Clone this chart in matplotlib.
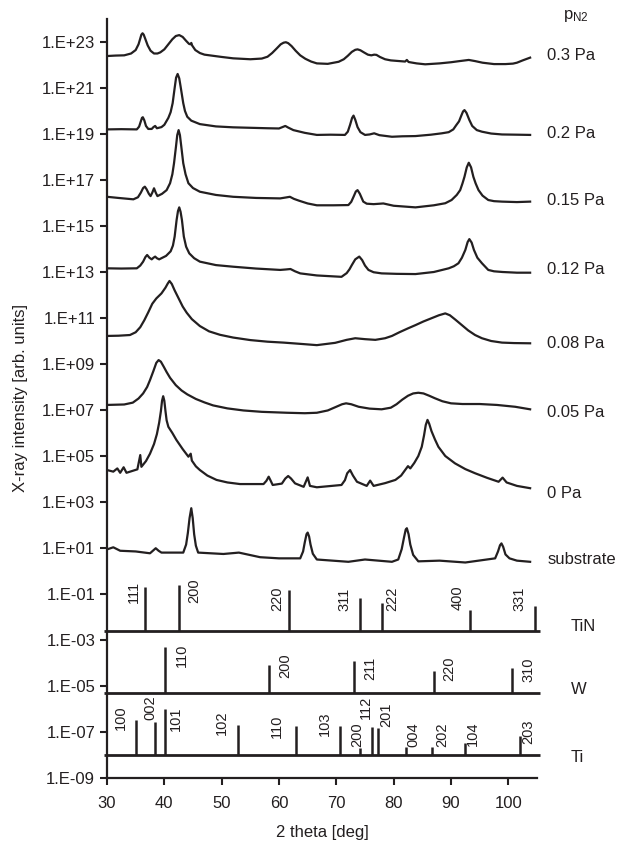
import numpy as np
import matplotlib
matplotlib.use("Agg")
import matplotlib.pyplot as plt
from matplotlib.ticker import FuncFormatter, NullLocator

c03 = [(30.0, 22.39), (31.5, 22.41), (33.0, 22.42), (34.2, 22.50), (35.0, 22.65), (35.5, 22.90),
       (35.8, 23.15), (36.0, 23.32), (36.2, 23.38), (36.4, 23.32), (36.7, 23.12), (37.1, 22.85),
       (37.6, 22.62), (38.2, 22.50), (38.8, 22.50), (39.3, 22.55), (40.0, 22.68), (40.7, 22.90),
       (41.4, 23.12), (42.0, 23.26), (42.6, 23.30), (43.2, 23.22), (43.8, 23.05), (44.3, 22.92),
       (44.55, 22.90), (44.7, 22.96), (44.85, 22.85), (45.4, 22.65), (46.2, 22.52), (47.0, 22.45),
       (48.5, 22.40), (50.0, 22.35), (52.0, 22.29), (53.5, 22.27), (55.0, 22.25), (57.0, 22.28),
       (58.0, 22.36), (58.8, 22.52), (59.6, 22.72), (60.3, 22.90), (60.8, 22.97), (61.2, 22.99),
       (61.6, 22.95), (62.2, 22.82), (62.9, 22.62), (63.7, 22.42), (64.6, 22.27), (65.6, 22.15),
       (66.6, 22.07), (68.5, 22.05), (70.4, 22.14), (71.3, 22.25), (72.0, 22.40), (72.7, 22.57),
       (73.3, 22.66), (73.7, 22.68), (74.2, 22.64), (74.8, 22.55), (75.5, 22.45), (76.1, 22.42),
       (76.6, 22.45), (77.0, 22.44), (77.6, 22.35), (78.5, 22.25), (79.5, 22.20), (81.0, 22.17),
       (82.0, 22.15), (82.3, 22.22), (82.6, 22.13), (84.0, 22.07), (85.5, 22.03), (88.0, 22.07),
       (90.0, 22.12), (91.5, 22.17), (93.1, 22.22), (94.2, 22.17), (95.5, 22.10), (97.5, 22.04),
       (99.5, 22.04), (100.8, 22.06), (101.5, 22.10), (102.5, 22.20), (103.8, 22.32)]
c02 = [(30.0, 19.20), (32.5, 19.21), (35.2, 19.20), (35.6, 19.32), (35.9, 19.55), (36.1, 19.70),
       (36.25, 19.73), (36.5, 19.60), (36.8, 19.35), (37.2, 19.22), (37.8, 19.22), (38.1, 19.30),
       (38.4, 19.35), (38.7, 19.25), (39.5, 19.30), (40.0, 19.40), (40.7, 19.70), (41.1, 19.95),
       (41.45, 20.34), (41.8, 21.00), (42.05, 21.45), (42.32, 21.61), (42.6, 21.42), (42.84, 21.06),
       (43.3, 20.34), (43.6, 20.00), (44.0, 19.75), (44.7, 19.58), (46.2, 19.43), (49.0, 19.33),
       (52.0, 19.29), (55.0, 19.27), (58.0, 19.25), (60.0, 19.24), (60.6, 19.30), (61.1, 19.35),
       (61.6, 19.28), (62.5, 19.17), (64.5, 19.05), (66.6, 18.96), (69.0, 18.97), (71.5, 18.96),
       (72.0, 19.10), (72.4, 19.40), (72.75, 19.70), (73.0, 19.80), (73.3, 19.62), (73.7, 19.30),
       (74.2, 19.08), (75.0, 18.96), (75.8, 18.98), (76.6, 19.03), (77.5, 18.95), (79.7, 18.88),
       (81.5, 18.90), (83.8, 18.91), (86.5, 18.97), (88.4, 19.03), (89.6, 19.08), (90.4, 19.20),
       (90.9, 19.38), (91.4, 19.55), (91.8, 19.80), (92.1, 19.98), (92.35, 20.04), (92.7, 19.92),
       (93.2, 19.61), (93.7, 19.35), (94.5, 19.17), (95.4, 19.10), (97.0, 19.02), (98.9, 18.98),
       (101.5, 18.97), (103.8, 18.96)]
c015 = [(30.0, 16.27), (32.0, 16.22), (34.6, 16.16), (35.4, 16.25), (35.9, 16.45), (36.3, 16.65),
        (36.6, 16.71), (36.9, 16.60), (37.3, 16.40), (37.6, 16.30), (37.9, 16.45), (38.2, 16.64),
        (38.5, 16.45), (38.8, 16.30), (39.6, 16.40), (40.4, 16.56), (41.0, 16.86), (41.4, 17.25),
        (41.69, 17.73), (42.03, 18.45), (42.25, 18.95), (42.49, 19.17), (42.72, 18.95), (42.96, 18.45),
        (43.3, 17.73), (43.7, 17.25), (44.2, 16.86), (45.0, 16.65), (46.2, 16.49), (49.0, 16.35),
        (52.0, 16.27), (56.0, 16.22), (60.2, 16.20), (61.2, 16.24), (61.9, 16.27), (62.6, 16.18),
        (63.5, 16.10), (65.0, 15.98), (66.6, 15.90), (69.5, 15.90), (72.1, 15.91), (72.6, 16.05),
        (73.0, 16.27), (73.4, 16.50), (73.7, 16.56), (74.1, 16.40), (74.7, 16.06), (75.3, 15.97),
        (76.5, 15.95), (78.2, 15.98), (80.0, 15.88), (83.8, 15.81), (87.0, 15.90), (89.0, 15.99),
        (90.1, 16.13), (91.0, 16.35), (91.6, 16.56), (92.0, 16.85), (92.35, 17.14), (92.75, 17.55),
        (93.1, 17.75), (93.5, 17.55), (93.9, 17.14), (94.3, 16.85), (94.8, 16.56), (95.5, 16.32),
        (96.5, 16.13), (97.5, 16.08), (98.9, 16.06), (101.5, 16.04), (103.8, 16.06)]
c012 = [(30.0, 13.16), (32.5, 13.15), (35.2, 13.16), (35.8, 13.28), (36.3, 13.45), (36.7, 13.65),
        (37.0, 13.74), (37.4, 13.62), (37.8, 13.55), (38.1, 13.62), (38.4, 13.67), (38.7, 13.60),
        (39.1, 13.55), (40.3, 13.70), (41.1, 13.90), (41.5, 14.15), (41.8, 14.54), (42.14, 15.26),
        (42.38, 15.65), (42.6, 15.81), (42.83, 15.62), (43.07, 15.26), (43.4, 14.54), (43.8, 14.10),
        (44.35, 13.81), (45.2, 13.60), (46.2, 13.45), (49.0, 13.30), (52.0, 13.23), (56.0, 13.15),
        (60.2, 13.09), (61.2, 13.11), (62.0, 13.13), (62.8, 13.03), (63.7, 12.94), (66.6, 12.85),
        (70.9, 12.79), (71.8, 12.95), (72.3, 13.12), (72.7, 13.30), (73.3, 13.55), (74.0, 13.67),
        (74.5, 13.52), (75.0, 13.28), (75.6, 13.09), (76.5, 12.99), (77.9, 12.94), (80.5, 12.92),
        (83.8, 12.91), (87.0, 13.00), (89.6, 13.16), (90.5, 13.25), (91.3, 13.38), (91.9, 13.62),
        (92.5, 13.96), (92.9, 14.30), (93.2, 14.43), (93.6, 14.28), (94.0, 13.96), (94.6, 13.62),
        (95.4, 13.38), (96.5, 13.09), (97.5, 13.03), (99.0, 13.00), (101.5, 12.97), (103.8, 12.97)]
c008 = [(30.0, 10.22), (32.0, 10.23), (34.0, 10.26), (35.0, 10.38), (35.8, 10.60), (36.5, 10.90),
        (37.2, 11.25), (37.9, 11.62), (38.6, 11.85), (39.5, 12.07), (40.2, 12.32), (40.6, 12.50),
        (40.9, 12.61), (41.3, 12.48), (41.8, 12.20), (42.5, 11.85), (43.2, 11.50), (43.9, 11.23),
        (44.8, 10.95), (46.2, 10.65), (47.8, 10.42), (49.7, 10.27), (52.0, 10.15), (55.0, 10.04),
        (58.0, 9.97), (60.8, 9.93), (63.5, 9.88), (66.6, 9.82), (69.8, 9.92), (71.8, 10.05),
        (73.3, 10.12), (75.0, 10.08), (76.8, 10.05), (78.5, 10.12), (79.7, 10.22), (81.0, 10.38),
        (82.5, 10.55), (83.8, 10.69), (85.2, 10.85), (86.6, 10.99), (87.9, 11.12), (89.0, 11.20),
        (89.8, 11.12), (90.8, 10.92), (91.9, 10.69), (93.0, 10.46), (94.2, 10.26), (95.4, 10.12),
        (97.0, 10.00), (98.9, 9.93), (101.0, 9.91), (103.8, 9.90)]
c005 = [(30.0, 7.22), (33.0, 7.24), (34.5, 7.32), (35.5, 7.50), (36.3, 7.72), (37.0, 8.00),
        (37.5, 8.30), (38.1, 8.70), (38.6, 9.05), (39.0, 9.17), (39.4, 9.10), (39.9, 8.88),
        (40.4, 8.65), (41.0, 8.40), (42.0, 8.08), (43.0, 7.85), (44.0, 7.68), (45.5, 7.48),
        (47.0, 7.33), (48.5, 7.20), (51.0, 7.07), (53.8, 6.98), (57.0, 6.92), (61.4, 6.88),
        (64.5, 6.86), (66.6, 6.88), (68.5, 6.98), (69.8, 7.12), (71.0, 7.25), (71.7, 7.29),
        (72.6, 7.25), (73.9, 7.14), (75.8, 7.06), (77.9, 7.03), (79.5, 7.10), (80.5, 7.25),
        (81.5, 7.45), (82.5, 7.62), (83.4, 7.72), (84.3, 7.75), (85.2, 7.72), (86.2, 7.62),
        (87.2, 7.51), (88.5, 7.38), (90.0, 7.29), (92.0, 7.26), (95.0, 7.26), (98.0, 7.22),
        (101.2, 7.14), (103.8, 7.03)]
c0 = [(30.0, 4.39), (31.1, 4.32), (31.8, 4.46), (32.3, 4.27), (32.9, 4.51), (33.4, 4.27),
      (35.3, 4.42), (35.8, 5.04), (36.0, 4.53), (36.8, 4.78), (37.5, 5.10), (38.2, 5.52),
      (38.7, 5.95), (39.1, 6.45), (39.4, 6.95), (39.6, 7.40), (39.8, 7.60), (40.0, 7.40),
      (40.2, 6.95), (40.4, 6.55), (40.7, 6.27), (41.4, 6.00), (42.1, 5.70), (43.2, 5.30),
      (44.2, 4.97), (44.6, 5.10), (44.8, 4.80), (45.5, 4.55), (46.2, 4.39), (47.5, 4.15),
      (49.1, 3.96), (51.0, 3.85), (53.2, 3.78), (57.3, 3.78), (57.8, 3.92), (58.2, 4.10),
      (58.5, 3.95), (58.9, 3.74), (60.5, 3.80), (61.1, 4.02), (61.6, 4.13), (62.1, 4.02),
      (62.8, 3.81), (64.3, 3.66), (65.0, 4.07), (65.4, 3.70), (66.6, 3.64), (70.9, 3.74),
      (71.5, 3.95), (71.9, 4.25), (72.4, 4.39), (72.9, 4.15), (73.6, 3.88), (75.3, 3.70),
      (75.9, 3.93), (76.5, 3.70), (78.5, 3.82), (80.3, 3.96), (81.3, 4.15), (82.0, 4.39),
      (82.5, 4.56), (82.9, 4.46), (83.6, 4.70), (84.3, 5.00), (84.9, 5.40), (85.3, 5.90),
      (85.6, 6.35), (85.9, 6.57), (86.2, 6.40), (86.6, 6.08), (87.2, 5.72), (87.8, 5.40),
      (89.0, 5.00), (90.7, 4.68), (92.5, 4.43), (94.2, 4.25), (96.3, 4.05), (98.3, 3.88),
      (99.0, 4.06), (99.7, 3.85), (101.5, 3.70), (103.8, 3.60)]
c_sub = [(30.0, 0.94), (31.1, 1.03), (32.3, 0.88), (35.0, 0.85), (37.5, 0.77), (38.0, 0.88),
         (38.5, 0.99), (39.0, 0.88), (39.5, 0.80), (43.3, 0.80), (43.8, 1.15), (44.1, 1.65),
         (44.4, 2.30), (44.7, 2.73), (44.95, 2.30), (45.2, 1.60), (45.5, 1.10), (45.9, 0.80),
         (50.3, 0.74), (53.0, 0.80), (56.7, 0.60), (60.0, 0.55), (63.7, 0.55), (64.2, 0.85),
         (64.5, 1.25), (64.8, 1.60), (65.0, 1.67), (65.25, 1.50), (65.5, 1.15), (65.9, 0.75),
         (66.6, 0.50), (72.1, 0.40), (75.0, 0.50), (79.7, 0.40), (80.8, 0.50), (81.4, 0.95),
         (81.8, 1.45), (82.1, 1.80), (82.3, 1.86), (82.6, 1.60), (82.9, 1.15), (83.4, 0.70),
         (84.3, 0.42), (88.0, 0.45), (92.5, 0.37), (97.7, 0.55), (98.2, 0.85), (98.55, 1.12),
         (98.8, 1.20), (99.1, 1.05), (99.5, 0.72), (100.2, 0.55), (101.5, 0.45), (103.8, 0.40)]

curves = [c03, c02, c015, c012, c008, c005, c0, c_sub]
curve_names = ["0.3 Pa", "0.2 Pa", "0.15 Pa", "0.12 Pa", "0.08 Pa", "0.05 Pa", "0 Pa", "substrate"]
curve_label_level = [22.43, 19.04, 16.13, 13.09, 9.91, 6.91, 3.35, 0.48]

# reference stick patterns (relative intensity, %)
tin_pos = [36.7, 42.6, 61.8, 74.1, 77.9, 93.3, 104.7]
tin_int = [82, 100, 61, 27, 16, 8, 12]
tin_hkl = ["111", "200", "220", "311", "222", "400", "331"]
w_pos = [40.2, 58.2, 73.1, 87.0, 100.6]
w_int = [100, 16, 25, 9, 12]
w_hkl = ["110", "200", "211", "220", "310"]
ti_pos = [35.0, 38.3, 40.1, 52.9, 62.9, 70.7, 74.2, 76.2, 77.2, 82.2, 86.6, 92.5, 102.1]
ti_int = [33, 27, 100, 20, 18, 18, 2, 16, 15, 2.2, 2.2, 3.3, 6.7]
ti_hkl = ["100", "002", "101", "102", "110", "103", "200", "112", "201", "004", "202", "104", "203"]

# label placement for the hkl indices (x in deg, y as log10)
tin_lab_x = [34.7, 45.2, 59.75, 71.4, 79.7, 91.2, 102.0]
tin_lab_y = [-0.91, -0.87, -1.22, -1.22, -1.20, -1.17, -1.22]
w_lab_x = [43.1, 61.1, 75.9, 89.7, 103.5]
w_lab_y = [-3.65, -4.13, -4.22, -4.26, -4.28]
ti_lab_x = [32.4, 37.6, 42.1, 50.0, 59.7, 68.0, 73.6, 75.2, 78.7, 83.4, 88.4, 93.9, 103.5]
ti_lab_y = [-6.39, -5.93, -6.43, -6.59, -6.74, -6.65, -7.11, -5.91, -6.26, -7.11, -7.11, -7.09, -7.00]

refs = [("TiN", -2.61, tin_pos, tin_int, tin_hkl, tin_lab_x, tin_lab_y, -2.43),
        ("W", -5.30, w_pos, w_int, w_hkl, w_lab_x, w_lab_y, -5.17),
        ("Ti", -8.00, ti_pos, ti_int, ti_hkl, ti_lab_x, ti_lab_y, -8.09)]

ink = "#231f20"
plt.rcParams["font.family"] = ["Liberation Sans", "DejaVu Sans"]
plt.rcParams["mathtext.default"] = "regular"

fig = plt.figure(figsize=(6.19, 8.44), dpi=100)
ax = fig.add_axes([107 / 619, 66 / 844, 430 / 619, 759 / 844])

for c in curves:
    x, y = zip(*c)
    ax.plot(x, 10.0 ** np.array(y), color=ink, lw=1.6, solid_joinstyle="round")
for name, lev in zip(curve_names, curve_label_level):
    ax.text(106.8, 10.0 ** lev, name, va="center", ha="left", fontsize=12, color=ink, clip_on=False)
ax.text(109.6, 10.0 ** 24.13, r"p$_{N2}$", va="center", ha="left", fontsize=12, color=ink, clip_on=False)

for name, base, pos, inten, hkl, lx, ly, namey in refs:
    b = 10.0 ** base
    ax.plot([29.5, 105.5], [b, b], color=ink, lw=2, clip_on=False, solid_capstyle="butt")
    ax.vlines(pos, b, b * np.array(inten), color=ink, lw=1.8)
    for h, xx, yy in zip(hkl, lx, ly):
        ax.text(xx, 10.0 ** yy, h, rotation=90, ha="center", va="center", fontsize=10.5, color=ink)
    ax.text(110.9, 10.0 ** namey, name, va="center", ha="left", fontsize=12, color=ink, clip_on=False)

ax.set_yscale("log")
ax.set_ylim(1e-9, 1e24)
ax.set_xlim(30, 105)
ax.set_yticks([10.0 ** k for k in range(-9, 24, 2)])
ax.yaxis.set_major_formatter(FuncFormatter(lambda v, p: "1.E%+03d" % round(np.log10(v))))
ax.yaxis.set_minor_locator(NullLocator())
ax.set_xticks(range(30, 101, 10))
for s in ["top", "right"]:
    ax.spines[s].set_visible(False)
for s in ["left", "bottom"]:
    ax.spines[s].set_linewidth(1.6)
    ax.spines[s].set_color(ink)
ax.tick_params(direction="out", length=5, width=1.5, colors=ink, labelsize=12)
ax.tick_params(axis="x", pad=8)
ax.set_ylabel("X-ray intensity [arb. units]", fontsize=12, color=ink, labelpad=10)
ax.set_xlabel("2 theta [deg]", fontsize=12, color=ink, labelpad=10)

fig.savefig("out.png", dpi=100)
